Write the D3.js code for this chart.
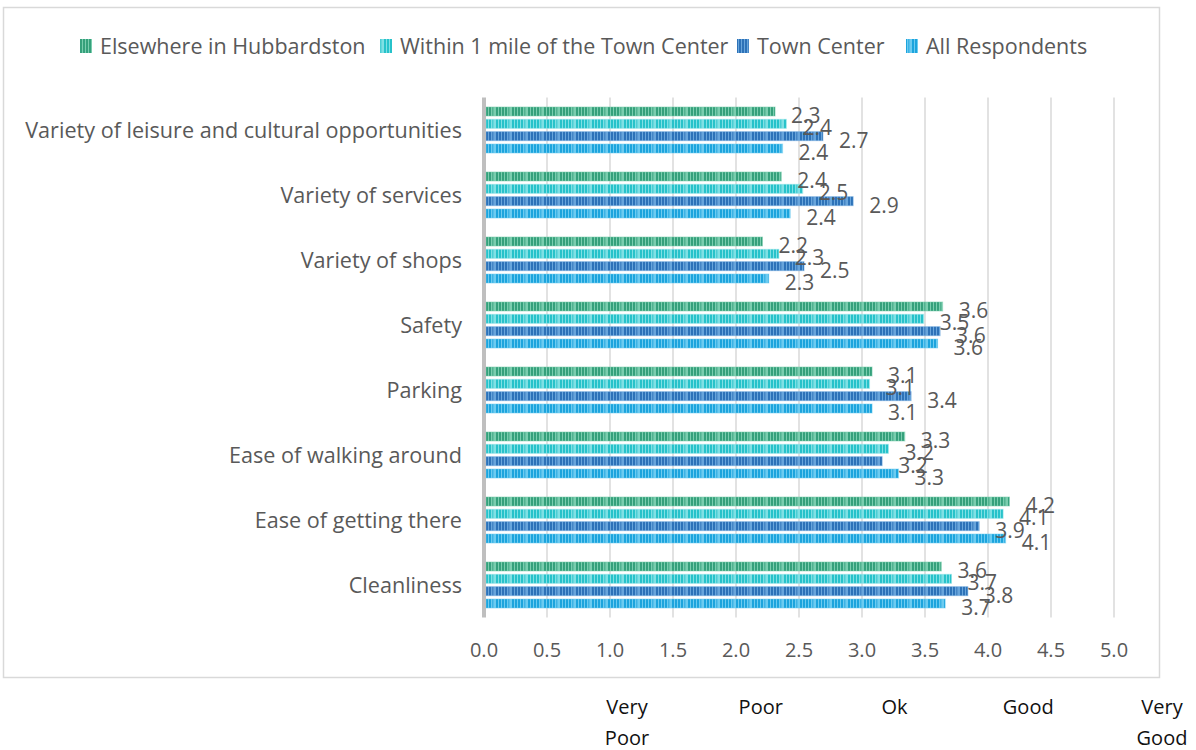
<!DOCTYPE html>
<html lang="en">
<head>
    <meta charset="UTF-8">
    <title>Hubbardston Town Center ratings</title>
    <script src="https://d3js.org/d3.v7.min.js"></script>
    <style>
        body { margin: 0; background: #fff; }
        svg text { font-family: "Open Sans", "Noto Sans", sans-serif; }
        .grid line { stroke: #d9d9d9; stroke-width: 1.5px; }
        .cat text, .tick-lbl, .legend text, .val { fill: #595959; }
        .rating { fill: #111; }
    </style>
</head>
<body>
    <svg width="1196" height="750"></svg>

    <script>
        // categories top to bottom
        const categories = [
            "Variety of leisure and cultural opportunities",
            "Variety of services",
            "Variety of shops",
            "Safety",
            "Parking",
            "Ease of walking around",
            "Ease of getting there",
            "Cleanliness"
        ];
        const seriesNames = ["Elsewhere in Hubbardston", "Within 1 mile of the Town Center", "Town Center", "All Respondents"];
        const elsewhere = [2.31, 2.36, 2.21, 3.64, 3.08, 3.34, 4.17, 3.63];
        const withinMile = [2.40, 2.53, 2.34, 3.49, 3.06, 3.21, 4.12, 3.71];
        const townCenter = [2.69, 2.93, 2.54, 3.62, 3.39, 3.16, 3.93, 3.84];
        const allResp = [2.37, 2.43, 2.26, 3.60, 3.08, 3.29, 4.14, 3.66];
        const xTicks = [0, 0.5, 1, 1.5, 2, 2.5, 3, 3.5, 4, 4.5, 5];
        const ratingLabels = [["Very", "Poor"], ["Poor"], ["Ok"], ["Good"], ["Very", "Good"]];

        // dark stripe / light base per series
        const colors = [
            { id: "p0", dark: "#35a07b", light: "#7acdae" },
            { id: "p1", dark: "#27c2ca", light: "#7fe0e4" },
            { id: "p2", dark: "#2d72b8", light: "#68a5db" },
            { id: "p3", dark: "#1ca4dd", light: "#6ccbf0" }
        ];

        const allSeries = [elsewhere, withinMile, townCenter, allResp];

        const svg = d3.select("svg");

        // stripe patterns
        const defs = svg.append("defs");
        colors.forEach(c => {
            const p = defs.append("pattern").attr("id", c.id)
                .attr("patternUnits", "userSpaceOnUse")
                .attr("width", 16).attr("height", 10);
            p.append("rect").attr("width", 16).attr("height", 10).attr("fill", c.light);
            [0, 3, 6, 9].forEach(x => p.append("rect").attr("x", x).attr("width", 2).attr("height", 10).attr("fill", c.dark));
            p.append("rect").attr("x", 12).attr("width", 1.5).attr("height", 10).attr("fill", c.dark).attr("opacity", 0.6);
        });

        // chart frame
        svg.append("rect")
            .attr("x", 3.5).attr("y", 7.5).attr("width", 1156).attr("height", 670)
            .attr("fill", "#fff").attr("stroke", "#d9d9d9").attr("stroke-width", 1.5);

        const x = d3.scaleLinear().domain([0, 5]).range([484, 1114]);
        const y = d3.scaleBand().domain(categories).range([97.5, 617.5])
            .paddingInner(0.292).paddingOuter(0.146);
        const ySub = d3.scaleBand().domain(d3.range(4)).range([0, y.bandwidth()]).paddingInner(0.27);

        // gridlines
        svg.append("g").attr("class", "grid")
            .selectAll("line").data(xTicks.slice(1)).join("line")
            .attr("x1", d => x(d)).attr("x2", d => x(d))
            .attr("y1", 97.5).attr("y2", 617.5);

        // bars
        const groups = svg.append("g").selectAll("g").data(categories).join("g")
            .attr("transform", d => `translate(0,${y(d)})`);

        groups.each(function (cat, ci) {
            const g = d3.select(this);
            allSeries.forEach((vals, si) => {
                g.append("rect")
                    .attr("x", x(0) + 2)
                    .attr("y", ySub(si))
                    .attr("width", x(vals[ci]) - x(0) - 2)
                    .attr("height", ySub.bandwidth())
                    .attr("fill", `url(#${colors[si].id})`)
                    .attr("stroke", colors[si].light).attr("stroke-opacity", 0.5).attr("stroke-width", 1);
            });
            allSeries.forEach((vals, si) => {
                g.append("text").attr("class", "val")
                    .attr("x", x(vals[ci]) + 16)
                    .attr("y", ySub(si) + ySub.bandwidth() / 2 + 4)
                    .attr("dy", "0.35em")
                    .attr("font-size", 21)
                    .text(d3.format(".1f")(vals[ci]));
            });
        });

        // y axis line
        svg.append("line")
            .attr("x1", x(0)).attr("x2", x(0)).attr("y1", 97.5).attr("y2", 617.5)
            .attr("stroke", "#bfbfbf").attr("stroke-width", 4);

        // category labels
        svg.append("g").attr("class", "cat")
            .selectAll("text").data(categories).join("text")
            .attr("x", 462).attr("y", d => y(d) + y.bandwidth() / 2)
            .attr("dy", "0.35em").attr("text-anchor", "end").attr("font-size", 21.6)
            .text(d => d);

        // x tick labels
        svg.append("g").selectAll("text").data(xTicks).join("text")
            .attr("class", "tick-lbl")
            .attr("x", d => x(d)).attr("y", 650).attr("dy", "0.35em")
            .attr("text-anchor", "middle").attr("font-size", 20)
            .text(d => d3.format(".1f")(d));

        // legend
        const legend = svg.append("g").attr("class", "legend");
        const legX = [80, 380, 737, 906];
        seriesNames.forEach((name, i) => {
            legend.append("rect").attr("x", legX[i]).attr("y", 39).attr("width", 12).attr("height", 14)
                .attr("fill", `url(#${colors[i].id})`);
            legend.append("text").attr("x", legX[i] + 20).attr("y", 46).attr("dy", "0.35em")
                .attr("font-size", 21.5).text(name);
        });

        // rating scale labels below the chart
        const rx = d3.scaleLinear().domain([0, 4]).range([627, 1162]);
        ratingLabels.forEach((lines, i) => {
            lines.forEach((t, li) => {
                svg.append("text").attr("class", "rating")
                    .attr("x", rx(i)).attr("y", 707 + li * 31).attr("dy", "0.35em")
                    .attr("text-anchor", "middle").attr("font-size", 20)
                    .text(t);
            });
        });
    </script>
</body>
</html>
